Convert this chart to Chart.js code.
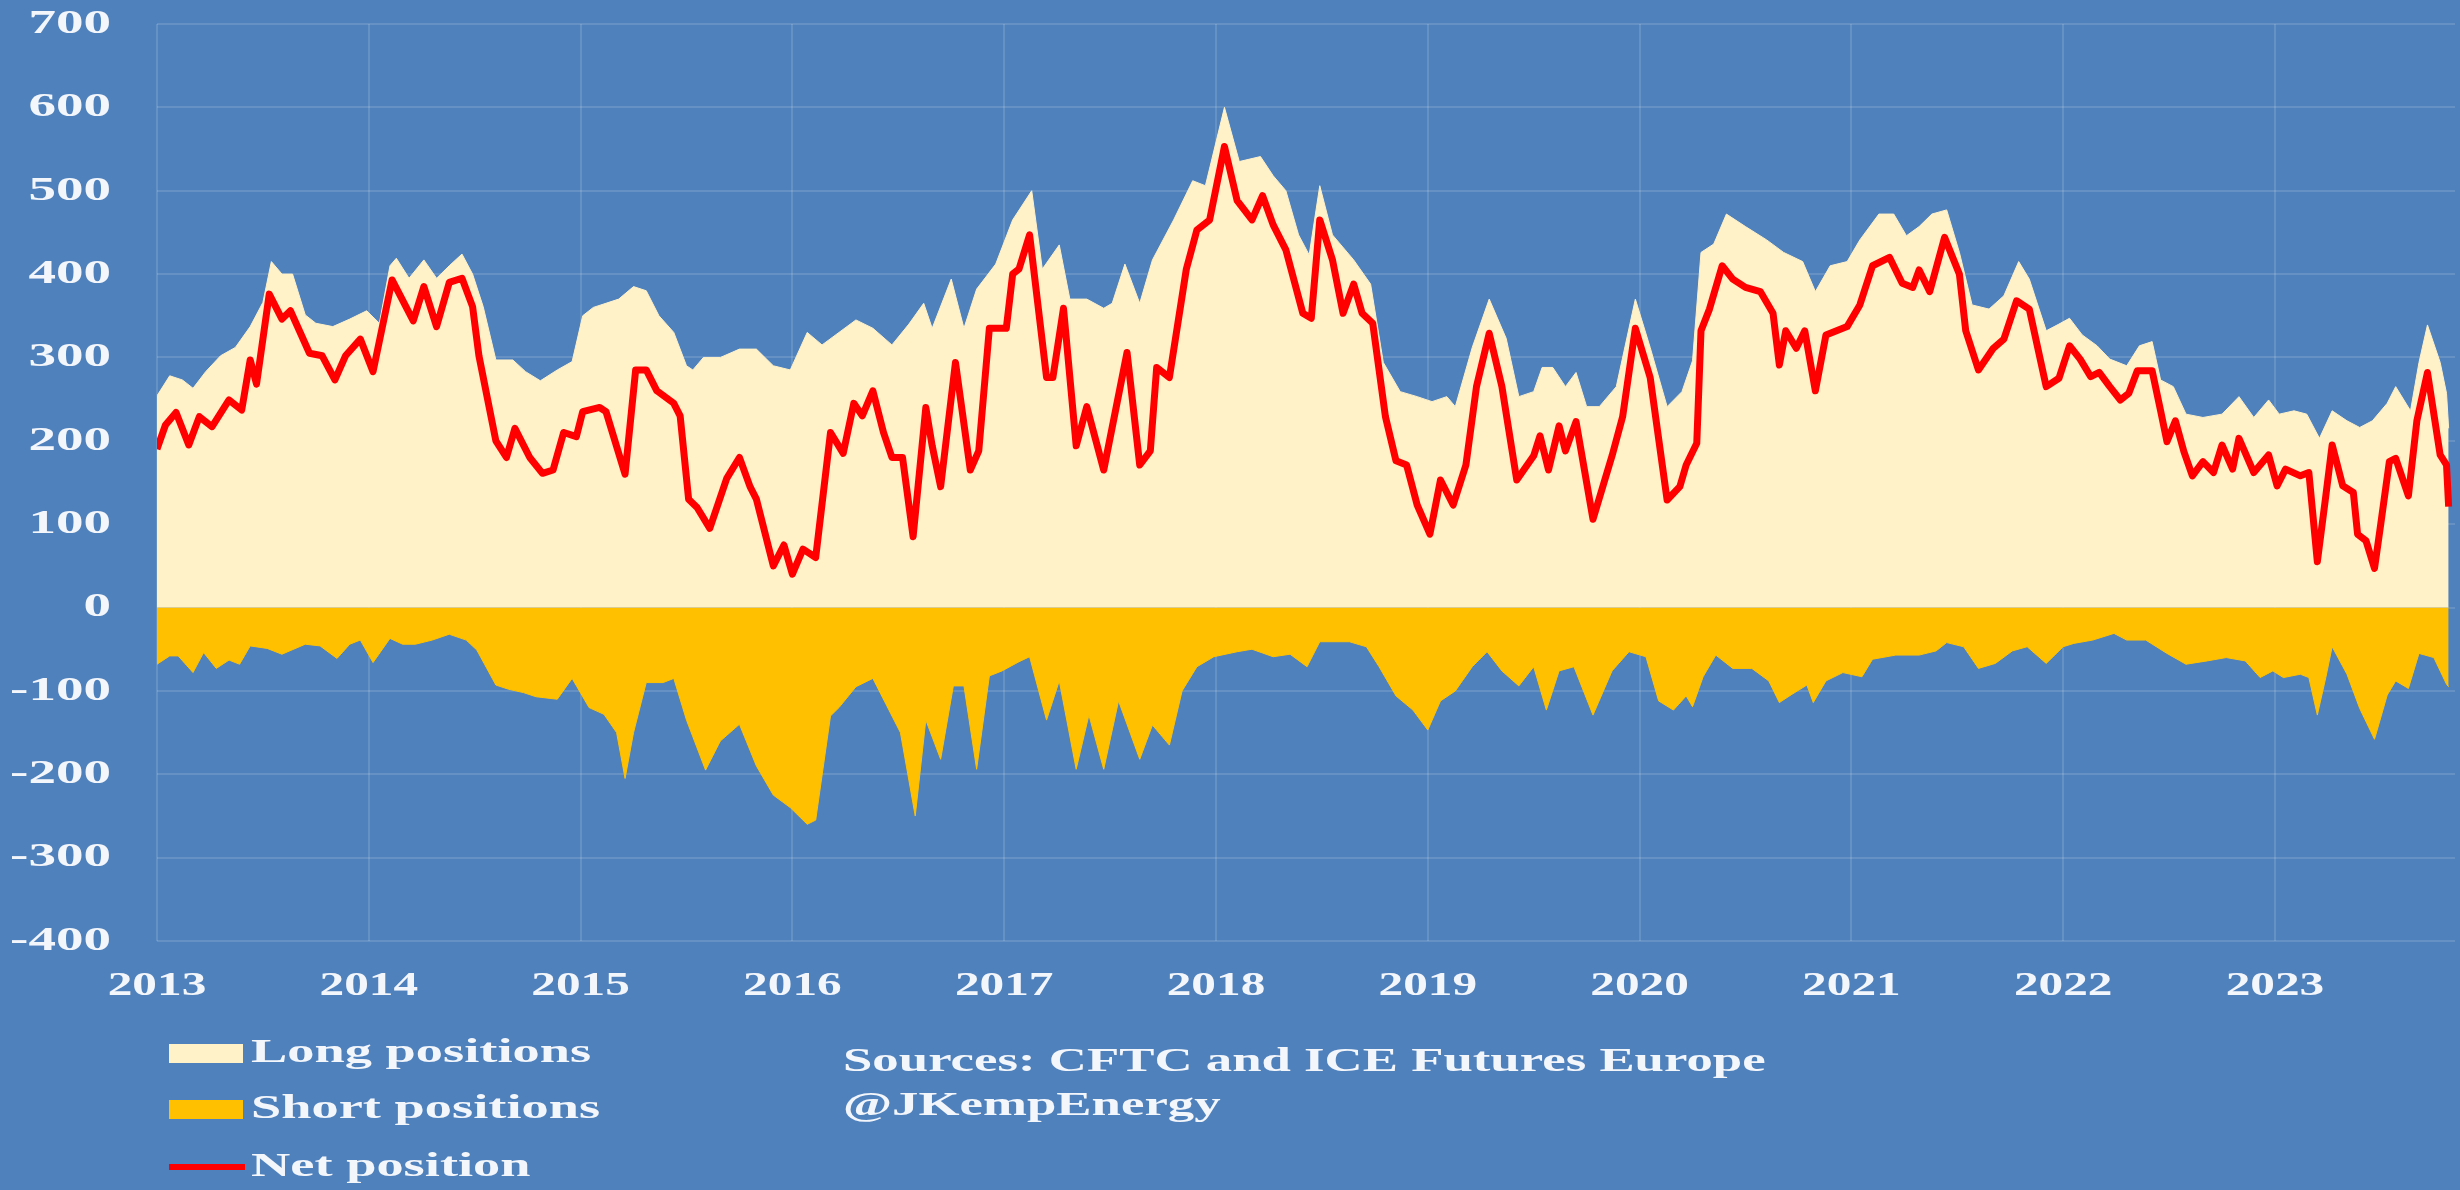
<!DOCTYPE html>
<html>
<head>
<meta charset="utf-8">
<script src="https://cdn.jsdelivr.net/npm/chart.js@4.4.0/dist/chart.umd.min.js"></script>
<style>
    html, body { margin: 0; padding: 0; background: #4f81bd; }
    #id_contenedor { position: relative; width: 2460px; height: 1190px; }
</style>
</head>
<body>
<div id="id_contenedor"><canvas id="id_grafica"></canvas></div>
<script>
//------------------------DATOS (miles de contratos)-----------------------------------------------
const longYears = [2013.00, 2013.06, 2013.12, 2013.17, 2013.23, 2013.30, 2013.37, 2013.44, 2013.50, 2013.54, 2013.59, 2013.64, 2013.70, 2013.75, 2013.83, 2013.91, 2013.99, 2014.05, 2014.10, 2014.13, 2014.19, 2014.26, 2014.32, 2014.38, 2014.44, 2014.49, 2014.54, 2014.60, 2014.68, 2014.74, 2014.81, 2014.89, 2014.96, 2015.01, 2015.06, 2015.12, 2015.18, 2015.25, 2015.31, 2015.37, 2015.44, 2015.50, 2015.53, 2015.58, 2015.66, 2015.75, 2015.83, 2015.91, 2015.99, 2016.07, 2016.14, 2016.22, 2016.30, 2016.38, 2016.47, 2016.55, 2016.62, 2016.66, 2016.75, 2016.81, 2016.87, 2016.96, 2017.04, 2017.13, 2017.18, 2017.26, 2017.31, 2017.39, 2017.47, 2017.51, 2017.57, 2017.64, 2017.70, 2017.80, 2017.89, 2017.95, 2018.04, 2018.11, 2018.21, 2018.27, 2018.33, 2018.39, 2018.44, 2018.49, 2018.55, 2018.65, 2018.73, 2018.79, 2018.87, 2018.95, 2019.02, 2019.09, 2019.13, 2019.21, 2019.29, 2019.37, 2019.43, 2019.50, 2019.54, 2019.59, 2019.65, 2019.70, 2019.75, 2019.81, 2019.89, 2019.98, 2020.05, 2020.13, 2020.20, 2020.25, 2020.29, 2020.35, 2020.41, 2020.50, 2020.60, 2020.68, 2020.77, 2020.83, 2020.90, 2020.98, 2021.04, 2021.13, 2021.20, 2021.26, 2021.32, 2021.38, 2021.45, 2021.51, 2021.57, 2021.65, 2021.72, 2021.79, 2021.84, 2021.92, 2021.98, 2022.03, 2022.09, 2022.16, 2022.22, 2022.30, 2022.36, 2022.42, 2022.46, 2022.52, 2022.58, 2022.66, 2022.75, 2022.83, 2022.90, 2022.97, 2023.02, 2023.09, 2023.15, 2023.21, 2023.27, 2023.34, 2023.40, 2023.46, 2023.53, 2023.57, 2023.64, 2023.68, 2023.72, 2023.78, 2023.81, 2023.82];
const longValues = [254, 278, 273, 263, 283, 302, 312, 337, 366, 415, 400, 400, 351, 341, 337, 346, 356, 341, 410, 419, 395, 417, 395, 410, 424, 400, 361, 297, 297, 283, 272, 285, 295, 350, 360, 365, 370, 385, 380, 350, 330, 290, 285, 300, 300, 310, 310, 290, 285, 330, 315, 330, 345, 335, 315, 340, 365, 335, 394, 335, 382, 412, 465, 500, 406, 435, 370, 370, 359, 365, 412, 365, 417, 465, 512, 506, 600, 535, 541, 518, 500, 447, 423, 506, 447, 417, 388, 294, 259, 253, 247, 253, 241, 312, 370, 323, 253, 259, 288, 288, 265, 282, 241, 241, 265, 370, 312, 241, 259, 296, 426, 436, 472, 457, 441, 426, 415, 379, 410, 415, 441, 472, 472, 446, 457, 472, 477, 426, 363, 358, 374, 415, 394, 332, 340, 347, 327, 314, 298, 290, 314, 319, 273, 265, 232, 228, 232, 253, 228, 249, 232, 236, 232, 203, 236, 224, 216, 224, 245, 265, 236, 294, 339, 294, 257, 215];

const shortYears = [2013.00, 2013.06, 2013.10, 2013.17, 2013.22, 2013.28, 2013.34, 2013.39, 2013.44, 2013.52, 2013.59, 2013.70, 2013.77, 2013.85, 2013.91, 2013.96, 2014.02, 2014.10, 2014.16, 2014.22, 2014.30, 2014.38, 2014.46, 2014.51, 2014.60, 2014.66, 2014.73, 2014.79, 2014.89, 2014.96, 2015.04, 2015.11, 2015.17, 2015.21, 2015.25, 2015.31, 2015.39, 2015.44, 2015.50, 2015.59, 2015.66, 2015.75, 2015.83, 2015.91, 2015.99, 2016.07, 2016.11, 2016.18, 2016.22, 2016.30, 2016.38, 2016.44, 2016.51, 2016.58, 2016.63, 2016.70, 2016.76, 2016.81, 2016.87, 2016.93, 2016.99, 2017.07, 2017.12, 2017.20, 2017.26, 2017.34, 2017.40, 2017.47, 2017.54, 2017.64, 2017.70, 2017.78, 2017.84, 2017.91, 2017.99, 2018.10, 2018.17, 2018.27, 2018.35, 2018.43, 2018.49, 2018.52, 2018.63, 2018.71, 2018.77, 2018.85, 2018.93, 2019.00, 2019.06, 2019.13, 2019.21, 2019.28, 2019.35, 2019.43, 2019.50, 2019.56, 2019.62, 2019.69, 2019.78, 2019.87, 2019.95, 2020.03, 2020.09, 2020.16, 2020.22, 2020.25, 2020.30, 2020.36, 2020.44, 2020.53, 2020.61, 2020.66, 2020.72, 2020.79, 2020.82, 2020.88, 2020.96, 2021.05, 2021.10, 2021.21, 2021.32, 2021.40, 2021.45, 2021.53, 2021.60, 2021.68, 2021.76, 2021.83, 2021.92, 2022.00, 2022.05, 2022.14, 2022.24, 2022.30, 2022.39, 2022.49, 2022.58, 2022.68, 2022.77, 2022.86, 2022.93, 2022.99, 2023.04, 2023.12, 2023.16, 2023.20, 2023.24, 2023.27, 2023.34, 2023.40, 2023.47, 2023.53, 2023.57, 2023.63, 2023.68, 2023.75, 2023.81, 2023.82];
const shortValues = [-68, -58, -58, -78, -54, -73, -63, -68, -46, -49, -56, -44, -46, -61, -44, -39, -66, -37, -44, -44, -39, -32, -39, -51, -93, -98, -102, -107, -110, -85, -120, -128, -150, -205, -150, -90, -90, -85, -135, -195, -160, -140, -190, -225, -240, -260, -255, -130, -120, -95, -85, -115, -150, -250, -135, -182, -94, -94, -194, -82, -76, -65, -59, -135, -88, -194, -129, -194, -112, -182, -141, -165, -100, -71, -59, -53, -50, -59, -56, -71, -41, -41, -41, -47, -71, -106, -123, -147, -112, -100, -71, -53, -76, -94, -71, -123, -76, -71, -129, -76, -53, -59, -112, -123, -106, -119, -83, -57, -73, -73, -88, -114, -104, -93, -114, -88, -78, -83, -62, -57, -57, -52, -42, -47, -73, -67, -52, -47, -67, -47, -43, -39, -31, -39, -39, -55, -68, -64, -60, -64, -84, -76, -84, -80, -84, -129, -84, -47, -80, -121, -158, -105, -88, -97, -55, -60, -92, -95];

const netYears = [2013.00, 2013.04, 2013.09, 2013.15, 2013.20, 2013.26, 2013.34, 2013.40, 2013.44, 2013.47, 2013.53, 2013.59, 2013.63, 2013.72, 2013.78, 2013.84, 2013.89, 2013.96, 2014.02, 2014.11, 2014.21, 2014.26, 2014.32, 2014.38, 2014.44, 2014.49, 2014.52, 2014.60, 2014.65, 2014.69, 2014.76, 2014.82, 2014.87, 2014.92, 2014.98, 2015.01, 2015.09, 2015.12, 2015.21, 2015.26, 2015.31, 2015.36, 2015.44, 2015.47, 2015.51, 2015.55, 2015.61, 2015.69, 2015.75, 2015.80, 2015.83, 2015.91, 2015.96, 2016.00, 2016.05, 2016.11, 2016.18, 2016.24, 2016.29, 2016.33, 2016.38, 2016.43, 2016.47, 2016.52, 2016.57, 2016.63, 2016.66, 2016.70, 2016.77, 2016.84, 2016.88, 2016.93, 2017.01, 2017.04, 2017.07, 2017.12, 2017.20, 2017.23, 2017.28, 2017.34, 2017.39, 2017.47, 2017.58, 2017.64, 2017.69, 2017.72, 2017.78, 2017.86, 2017.91, 2017.97, 2018.04, 2018.10, 2018.17, 2018.22, 2018.27, 2018.33, 2018.41, 2018.45, 2018.49, 2018.55, 2018.60, 2018.65, 2018.69, 2018.74, 2018.80, 2018.85, 2018.90, 2018.95, 2019.01, 2019.06, 2019.12, 2019.18, 2019.23, 2019.29, 2019.35, 2019.42, 2019.50, 2019.53, 2019.57, 2019.62, 2019.65, 2019.70, 2019.78, 2019.87, 2019.92, 2019.98, 2020.05, 2020.13, 2020.19, 2020.22, 2020.27, 2020.29, 2020.33, 2020.39, 2020.44, 2020.50, 2020.57, 2020.63, 2020.66, 2020.69, 2020.74, 2020.78, 2020.83, 2020.88, 2020.98, 2021.04, 2021.10, 2021.18, 2021.24, 2021.29, 2021.32, 2021.37, 2021.44, 2021.51, 2021.54, 2021.60, 2021.67, 2021.72, 2021.78, 2021.84, 2021.92, 2021.98, 2022.03, 2022.08, 2022.13, 2022.17, 2022.22, 2022.27, 2022.31, 2022.35, 2022.42, 2022.46, 2022.49, 2022.53, 2022.57, 2022.61, 2022.66, 2022.71, 2022.75, 2022.80, 2022.83, 2022.90, 2022.93, 2022.97, 2023.01, 2023.05, 2023.12, 2023.16, 2023.20, 2023.24, 2023.27, 2023.32, 2023.37, 2023.39, 2023.43, 2023.47, 2023.50, 2023.54, 2023.57, 2023.63, 2023.67, 2023.72, 2023.78, 2023.81, 2023.82];
const netValues = [190, 219, 234, 195, 229, 217, 249, 237, 297, 268, 376, 346, 356, 305, 302, 273, 302, 322, 283, 393, 344, 385, 337, 390, 395, 361, 302, 200, 180, 215, 180, 161, 165, 210, 205, 235, 240, 235, 160, 285, 285, 260, 245, 230, 130, 120, 95, 155, 180, 145, 130, 50, 75, 40, 70, 60, 210, 185, 245, 230, 260, 210, 180, 180, 85, 240, 194, 145, 294, 165, 188, 335, 335, 400, 406, 447, 276, 276, 359, 194, 241, 165, 306, 171, 188, 288, 276, 406, 453, 465, 553, 488, 465, 494, 459, 429, 353, 347, 465, 417, 353, 388, 353, 341, 229, 176, 171, 123, 88, 153, 123, 171, 265, 329, 265, 153, 182, 206, 165, 218, 188, 223, 106, 182, 229, 335, 276, 129, 145, 171, 197, 332, 358, 410, 394, 384, 379, 353, 291, 332, 311, 332, 260, 327, 337, 363, 410, 420, 389, 384, 405, 379, 444, 400, 332, 285, 311, 322, 368, 358, 265, 275, 314, 298, 277, 282, 265, 249, 257, 284, 284, 236, 199, 224, 187, 158, 175, 162, 195, 166, 203, 162, 171, 183, 146, 166, 158, 162, 55, 134, 195, 146, 138, 88, 80, 47, 101, 175, 179, 134, 224, 282, 183, 171, 121];

const etiquetas = ['Net position', 'Long positions', 'Short positions'];
const fuentes = ['Sources: CFTC and ICE Futures Europe', '@JKempEnergy'];

//------------------------COLORES---------------------------
const colorLong = '#fff1c8';
const colorShort = '#ffc000';
const colorNet = '#ff0000';
const colorTexto = '#f3f6fb';
const colorGrid = 'rgba(255,255,255,0.13)';
const fuente = '"Liberation Serif", "Times New Roman", serif';

const aPuntos = (xs, ys) => xs.map((x, i) => ({ x: x, y: ys[i] }));

// el original viene estirado a lo ancho, asi que el texto se dibuja escalado en x
const textoAncho = (c, texto, x, y, align, sx) => {
    c.save();
    c.translate(x, y);
    c.scale(sx, 1);
    c.textAlign = align;
    c.textBaseline = 'middle';
    c.fillText(texto, 0, 0);
    c.restore();
};

const pluginTextos = {
    id: 'pluginTextos',
    afterDraw(chart) {
        const c = chart.ctx;
        const sx = chart.scales.x;
        const sy = chart.scales.y;
        const ds = chart.data.datasets;
        c.save();
        c.fillStyle = colorTexto;
        c.font = 'bold 34px ' + fuente;
        sy.ticks.forEach(t => {
            textoAncho(c, String(t.value), 111, sy.getPixelForValue(t.value), 'right', 1.62);
        });
        sx.ticks.forEach(t => {
            textoAncho(c, String(t.value), sx.getPixelForValue(t.value), 986, 'center', 1.45);
        });

        //leyenda
        c.fillStyle = ds[1].backgroundColor;
        c.fillRect(169, 1044, 74, 19);
        c.fillStyle = ds[2].backgroundColor;
        c.fillRect(169, 1100, 74, 19);
        c.strokeStyle = ds[0].borderColor;
        c.lineWidth = 6;
        c.beginPath();
        c.moveTo(169, 1167);
        c.lineTo(245, 1167);
        c.stroke();
        c.fillStyle = colorTexto;
        textoAncho(c, ds[1].label, 251, 1053, 'left', 1.6);
        textoAncho(c, ds[2].label, 251, 1109, 'left', 1.6);
        textoAncho(c, ds[0].label, 251, 1167, 'left', 1.6);

        c.font = 'bold 33px ' + fuente;
        textoAncho(c, fuentes[0], 843, 1062, 'left', 1.6);
        textoAncho(c, fuentes[1], 843, 1106, 'left', 1.6);
        c.restore();
    }
};

//------------------------GRAFICA---------------------------
let ctx = document.getElementById('id_grafica').getContext('2d');
let chart = new Chart(ctx, {
    type: 'line',
    data: {
        datasets: [{
            label: etiquetas[0],
            data: aPuntos(netYears, netValues),
            borderColor: colorNet,
            borderWidth: 7,
            fill: false,
            order: 0
        }, {
            label: etiquetas[1],
            data: aPuntos(longYears, longValues),
            backgroundColor: colorLong,
            borderColor: colorLong,
            borderWidth: 1,
            fill: 'origin',
            order: 1
        }, {
            label: etiquetas[2],
            data: aPuntos(shortYears, shortValues),
            backgroundColor: colorShort,
            borderColor: colorShort,
            borderWidth: 1,
            fill: 'origin',
            order: 2
        }]
    },
    options: {
        responsive: true,
        maintainAspectRatio: false,
        animation: false,
        layout: { padding: { left: 157, right: 5, top: 24, bottom: 249 } },
        elements: {
            point: { radius: 0 },
            line: { tension: 0, borderJoinStyle: 'round' }
        },
        plugins: {
            legend: { display: false },
            tooltip: { enabled: false }
        },
        scales: {
            x: {
                type: 'linear',
                min: 2013,
                max: 2023.85,
                ticks: { display: false, stepSize: 1, includeBounds: false },
                grid: { color: colorGrid, lineWidth: 2, drawTicks: false },
                border: { display: false }
            },
            y: {
                min: -400,
                max: 700,
                ticks: { display: false, stepSize: 100 },
                grid: { color: colorGrid, lineWidth: 2, drawTicks: false },
                border: { display: false }
            }
        }
    },
    plugins: [pluginTextos]
});
</script>
</body>
</html>
